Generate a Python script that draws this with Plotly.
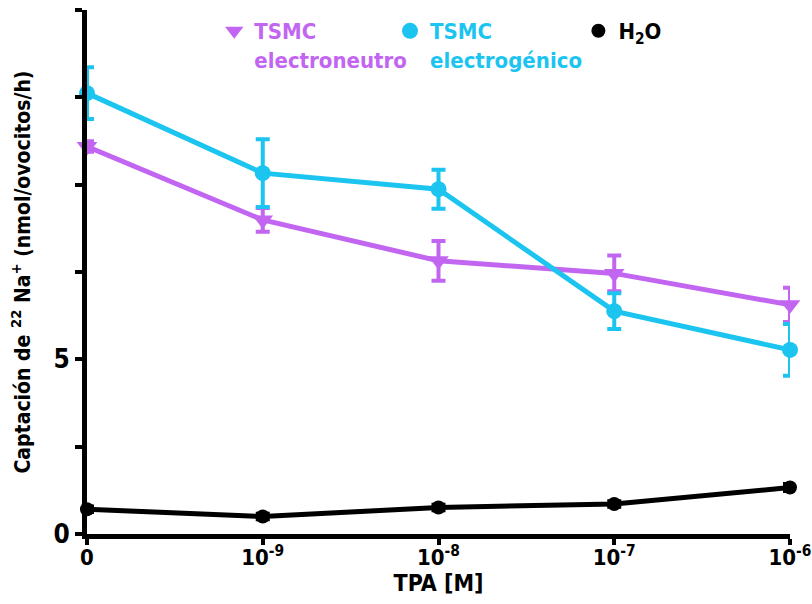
import plotly.graph_objects as go

# ---- data ----
categories = ["0", "10<sup>-9</sup>", "10<sup>-8</sup>", "10<sup>-7</sup>", "10<sup>-6</sup>"]
neutro = [11.09, 8.99, 7.82, 7.46, 6.56]
neutro_err = [0.15, 0.34, 0.57, 0.51, 0.49]
electro = [12.62, 10.33, 9.87, 6.38, 5.27]
electro_err = [0.74, 0.97, 0.56, 0.51, 0.74]
water = [0.71, 0.50, 0.76, 0.86, 1.33]
water_err = [0.08, 0.08, 0.08, 0.08, 0.1]
ytick_vals = [0, 2.5, 5, 7.5, 10, 12.5, 15]
ytick_text = ["<b>0</b>", "", "<b>5</b>", "", "", "", ""]

PURPLE = "#c266f2"
CYAN = "#1cc4f0"
BLACK = "#000000"
FONT = "DejaVu Sans Condensed, Liberation Sans Narrow, Arial Narrow, sans-serif"

x_idx = list(range(len(categories)))

fig = go.Figure()
series = [
    (neutro, neutro_err, PURPLE, "triangle-down", 18, "legend",
     "<b><span style='color:%s'>TSMC<br>electroneutro</span></b>" % PURPLE),
    (electro, electro_err, CYAN, "circle", 16, "legend2",
     "<b><span style='color:%s'>TSMC<br>electrogénico</span></b>" % CYAN),
    (water, water_err, BLACK, "circle", 14, "legend3",
     "<b>H<sub>2</sub>O</b>"),
]
for vals, errs, col, sym, size, leg, name in series:
    fig.add_trace(go.Scatter(
        x=x_idx, y=vals, mode="lines", showlegend=False,
        line=dict(color=col, width=5), cliponaxis=False,
    ))
    fig.add_trace(go.Scatter(
        x=x_idx, y=vals, mode="markers", name=name, legend=leg,
        marker=dict(color=col, symbol=sym, size=size),
        error_y=dict(type="data", array=errs, color=col, thickness=4, width=7),
        cliponaxis=False,
    ))

def leg(xp, col):
    return dict(x=xp, y=1.0, xanchor="left", yanchor="top", valign="top",
                font=dict(family=FONT, size=22, color=col),
                bgcolor="rgba(0,0,0,0)", itemsizing="trace")

fig.update_layout(
    width=812, height=604,
    margin=dict(l=87, r=22, t=10, b=70, autoexpand=False),
    plot_bgcolor="white", paper_bgcolor="white",
    font=dict(family=FONT, size=22, color="black"),
    legend=leg(0.181, PURPLE),
    legend2=leg(0.431, CYAN),
    legend3=leg(0.699, BLACK),
)
fig.update_xaxes(
    range=[0, 4], tickmode="array", tickvals=x_idx,
    ticktext=["<b>%s</b>" % c for c in categories],
    showline=True, linecolor="black", linewidth=5, showgrid=False, zeroline=False,
    ticks="outside", ticklen=6, tickwidth=4, tickcolor="black", automargin=False,
    ticklabelstandoff=-6, ticklabeloverflow="allow",
    tickfont=dict(family=FONT, size=22, color="black"),
    title=dict(text="<b>TPA [M]</b>", font=dict(family=FONT, size=23), standoff=2),
)
fig.update_yaxes(
    range=[0, 15], tickmode="array", tickvals=ytick_vals, ticktext=ytick_text,
    showline=True, linecolor="black", linewidth=5, showgrid=False, zeroline=False,
    ticks="outside", ticklen=7, tickwidth=4, tickcolor="black", automargin=False,
    ticklabeloverflow="allow",
    tickfont=dict(family=FONT, size=26, color="black"),
    title=dict(text="<b>Captación de <sup>22</sup> Na<sup>+</sup> (nmol/ovocitos/h)</b>",
               font=dict(family=FONT, size=21), standoff=19),
)
fig.write_html(
    "out.html",
    config={"displayModeBar": False},
    post_script="document.body.style.margin='0px';document.body.style.overflow='hidden';",
)
